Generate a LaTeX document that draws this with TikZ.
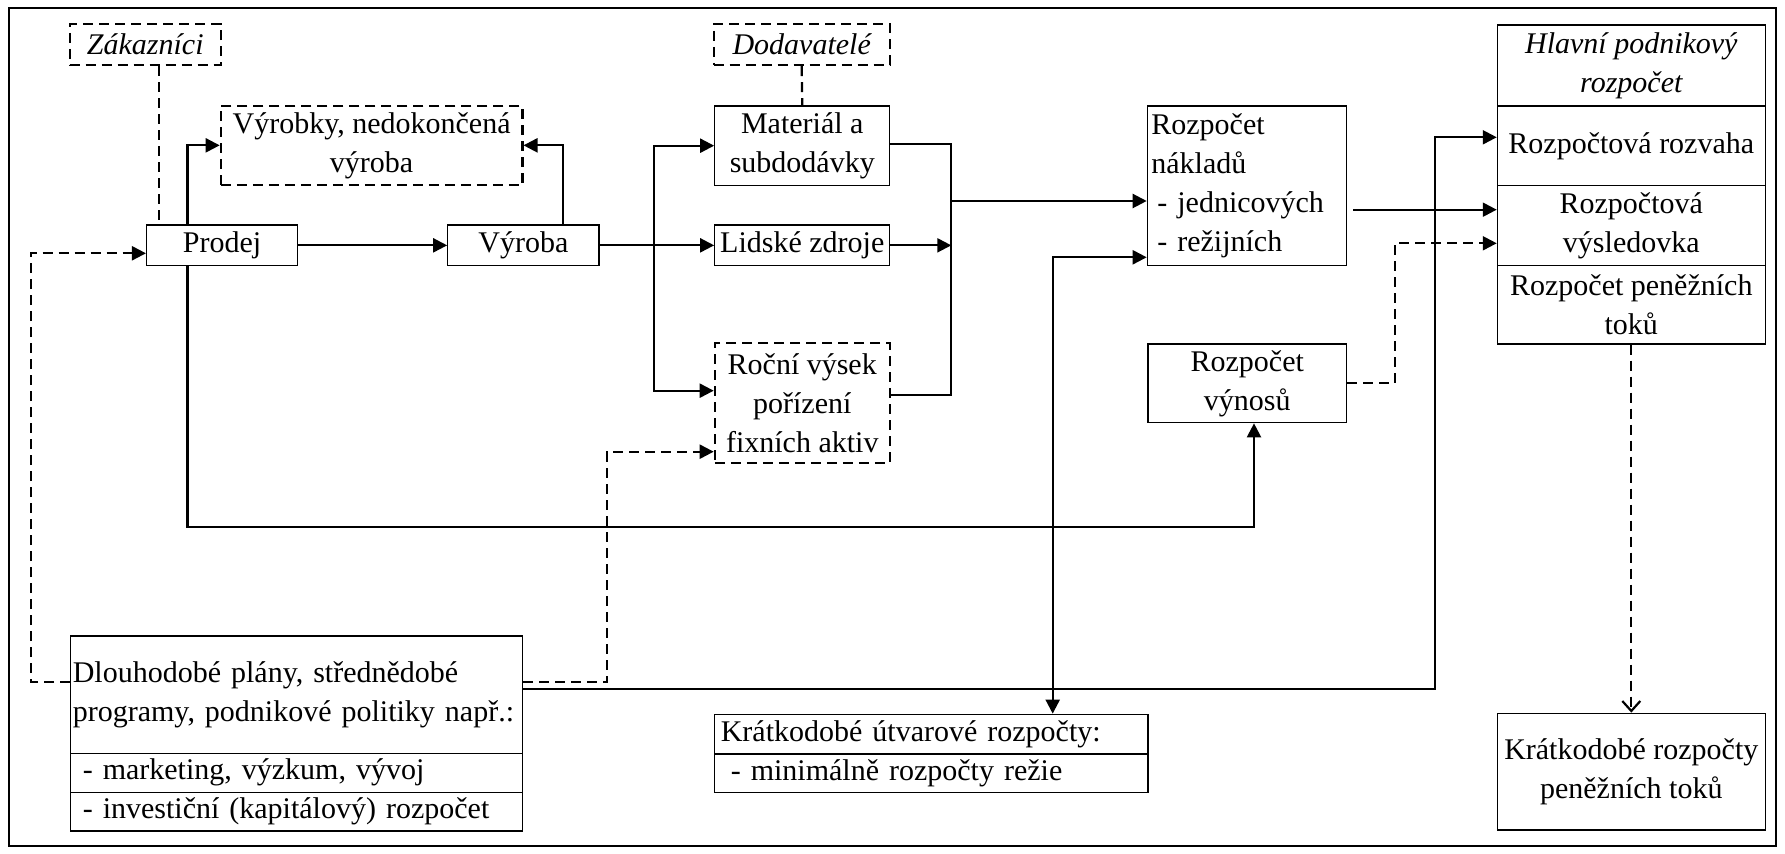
\documentclass[tikz,border=0pt]{standalone}
\usepackage{fontspec}
\setmainfont{Liberation Serif}
\usetikzlibrary{arrows.meta}
\newcommand\bx[7]{\node[#6, minimum width={(#4-(#2))*0.5pt}, minimum height={(#5-(#3))*0.5pt}] (#1) at ({(#2+#4)/2},{(#3+#5)/2}) {#7};}
\newcommand\lbx[9]{\node[#6, align=left, inner xsep=#8, text width=#9, minimum height={(#5-(#3))*0.5pt}] (#1) at ({(#2+#4)/2},{(#3+#5)/2}) {#7};}
\begin{document}
\begin{tikzpicture}[x=0.5pt,y=-0.5pt,
  font=\fontsize{15}{19.5}\selectfont,
  box/.style={draw, line width=0.65pt, inner sep=0pt, align=center},
  dbox/.style={draw, line width=1.1pt, dash pattern=on 5pt off 3pt, inner sep=0pt, align=center},
  conn/.style={line width=1.1pt},
  tip/.tip={Triangle[length=7pt,width=7pt]},
  arr/.style={conn, -tip},
  darr/.style={conn, dash pattern=on 5pt off 3pt, -tip},
  dline/.style={conn, dash pattern=on 5pt off 3pt},
]
\useasboundingbox (0,0) rectangle (1785,854);
\draw[line width=0.8pt] (9,8) rectangle (1776,846);

% nodes
\bx{zak}{69.7}{24}{220.8}{65}{dbox}{\itshape Zákazníci}
\bx{dod}{713.7}{24}{889.7}{65}{dbox}{\itshape Dodavatelé}
\bx{vyrobky}{220.8}{105.7}{522.4}{185}{dbox}{Výrobky, nedokončená\\výroba}
\bx{prodej}{146.6}{225}{297.4}{265.7}{box}{Prodej}
\bx{vyroba}{447.8}{225}{599}{265.7}{box}{Výroba}
\bx{mat}{714.8}{106}{889.7}{185.7}{box}{Materiál a\\subdodávky}
\bx{lid}{714.8}{225}{889.7}{265.7}{box}{Lidské zdroje}
\bx{rocni}{714.8}{343.3}{889.7}{462.7}{dbox}{Roční výsek\\pořízení\\fixních aktiv}
\lbx{nakl}{1147.3}{106}{1346.6}{265.7}{box}{Rozpočet\\nákladů\\\hspace*{3pt}- jednicových\\\hspace*{3pt}- režijních}{2pt}{95.6pt}
\bx{vynos}{1148}{344}{1346.6}{422.7}{box}{Rozpočet\\výnosů}
\bx{hlavni}{1497.4}{25}{1765.2}{106}{box}{\itshape Hlavní podnikový\\\itshape rozpočet}
\bx{rozvaha}{1497.4}{106}{1765.2}{185.7}{box}{Rozpočtová rozvaha}
\bx{vysl}{1497.4}{185.7}{1765.2}{265.7}{box}{Rozpočtová\\výsledovka}
\bx{penez}{1497.4}{265.7}{1765.2}{344}{box}{Rozpočet peněžních\\toků}
\bx{kpt}{1497.4}{713.3}{1765.2}{830}{box}{Krátkodobé rozpočty\\peněžních toků}
\lbx{dl1}{70.8}{636}{522.4}{753.3}{box}{Dlouhodobé plány, střednědobé\\programy, podnikové politiky např.:}{1pt}{223.8pt}
\lbx{dl2}{70.8}{753.3}{522.4}{792.3}{box}{\hspace*{5pt}- marketing, výzkum, vývoj}{1pt}{223.8pt}
\lbx{dl3}{70.8}{792.3}{522.4}{831}{box}{\hspace*{5pt}- investiční (kapitálový) rozpočet}{1pt}{223.8pt}
\lbx{ut1}{714.8}{714.3}{1148}{754}{box}{Krátkodobé útvarové rozpočty:}{3pt}{210.6pt}
\lbx{ut2}{714.8}{754}{1148}{792.3}{box}{\hspace*{5pt}- minimálně rozpočty režie}{3pt}{210.6pt}

% helper coordinates
\coordinate (zk) at (158.8,0);
\coordinate (pu) at (187.5,0);
\coordinate (vu) at (562.6,0);
\coordinate (L1) at (30.6,681.7);
\coordinate (L2) at (30.6,253.3);
\coordinate (B1t) at (653.8,145.7);
\coordinate (B1b) at (653.8,390.7);
\coordinate (B2t) at (951.3,144.3);
\coordinate (B2b) at (951.3,395);
\coordinate (B2m) at (951.3,201);
\coordinate (N1) at (1353,209.7);
\coordinate (V1) at (1394.8,243.3);
\coordinate (P1) at (187.5,526.7);
\coordinate (P2) at (1254,526.7);
\coordinate (D1) at (607,681.7);
\coordinate (D2) at (607,451.7);
\coordinate (S1) at (1435,689.3);
\coordinate (S2) at (1435,137.3);
\coordinate (U1) at (1052.7,257.3);

% connectors
\draw[dline] (zak.south -| zk) -- (prodej.north -| zk);
\draw[dline] (dod.south) -- (mat.north);
\draw[arr] (prodej.north -| pu) |- (vyrobky.west);
\draw[arr] (vyroba.north -| vu) |- (vyrobky.east);
\draw[arr] (prodej) -- (vyroba);
\draw[darr] (dl1.west |- L1) -- (L1) -- (L2) -- (prodej.west |- L2);
\draw[arr] (vyroba) -- (lid);
\draw[conn, tip-tip] (mat.west |- B1t) -- (B1t) -- (B1b) -- (rocni.west |- B1b);
\draw[conn] (mat.east |- B2t) -- (B2t) -- (B2b) -- (rocni.east |- B2b);
\draw[arr] (lid.east) -- (lid.east -| B2t);
\draw[arr] (B2m) -- (nakl.west |- B2m);
\draw[arr] (N1) -- (vysl.west |- N1);
\draw[darr] (vynos.east) -| (V1) -- (vysl.west |- V1);
\draw[arr] (prodej.south -| P1) -- (P1) -- (P2) -- (vynos.south -| P2);
\draw[darr] (dl1.east |- D1) -- (D1) -- (D2) -- (rocni.west |- D2);
\draw[arr] (dl1.east |- S1) -- (S1) -- (S2) -- (rozvaha.west |- S2);
\draw[conn, tip-tip] (nakl.west |- U1) -- (U1) -- (ut1.north -| U1);
\draw[dline, -{Straight Barb[length=5pt,width=9pt]}] (penez.south) -- (kpt.north);
\end{tikzpicture}
\end{document}
